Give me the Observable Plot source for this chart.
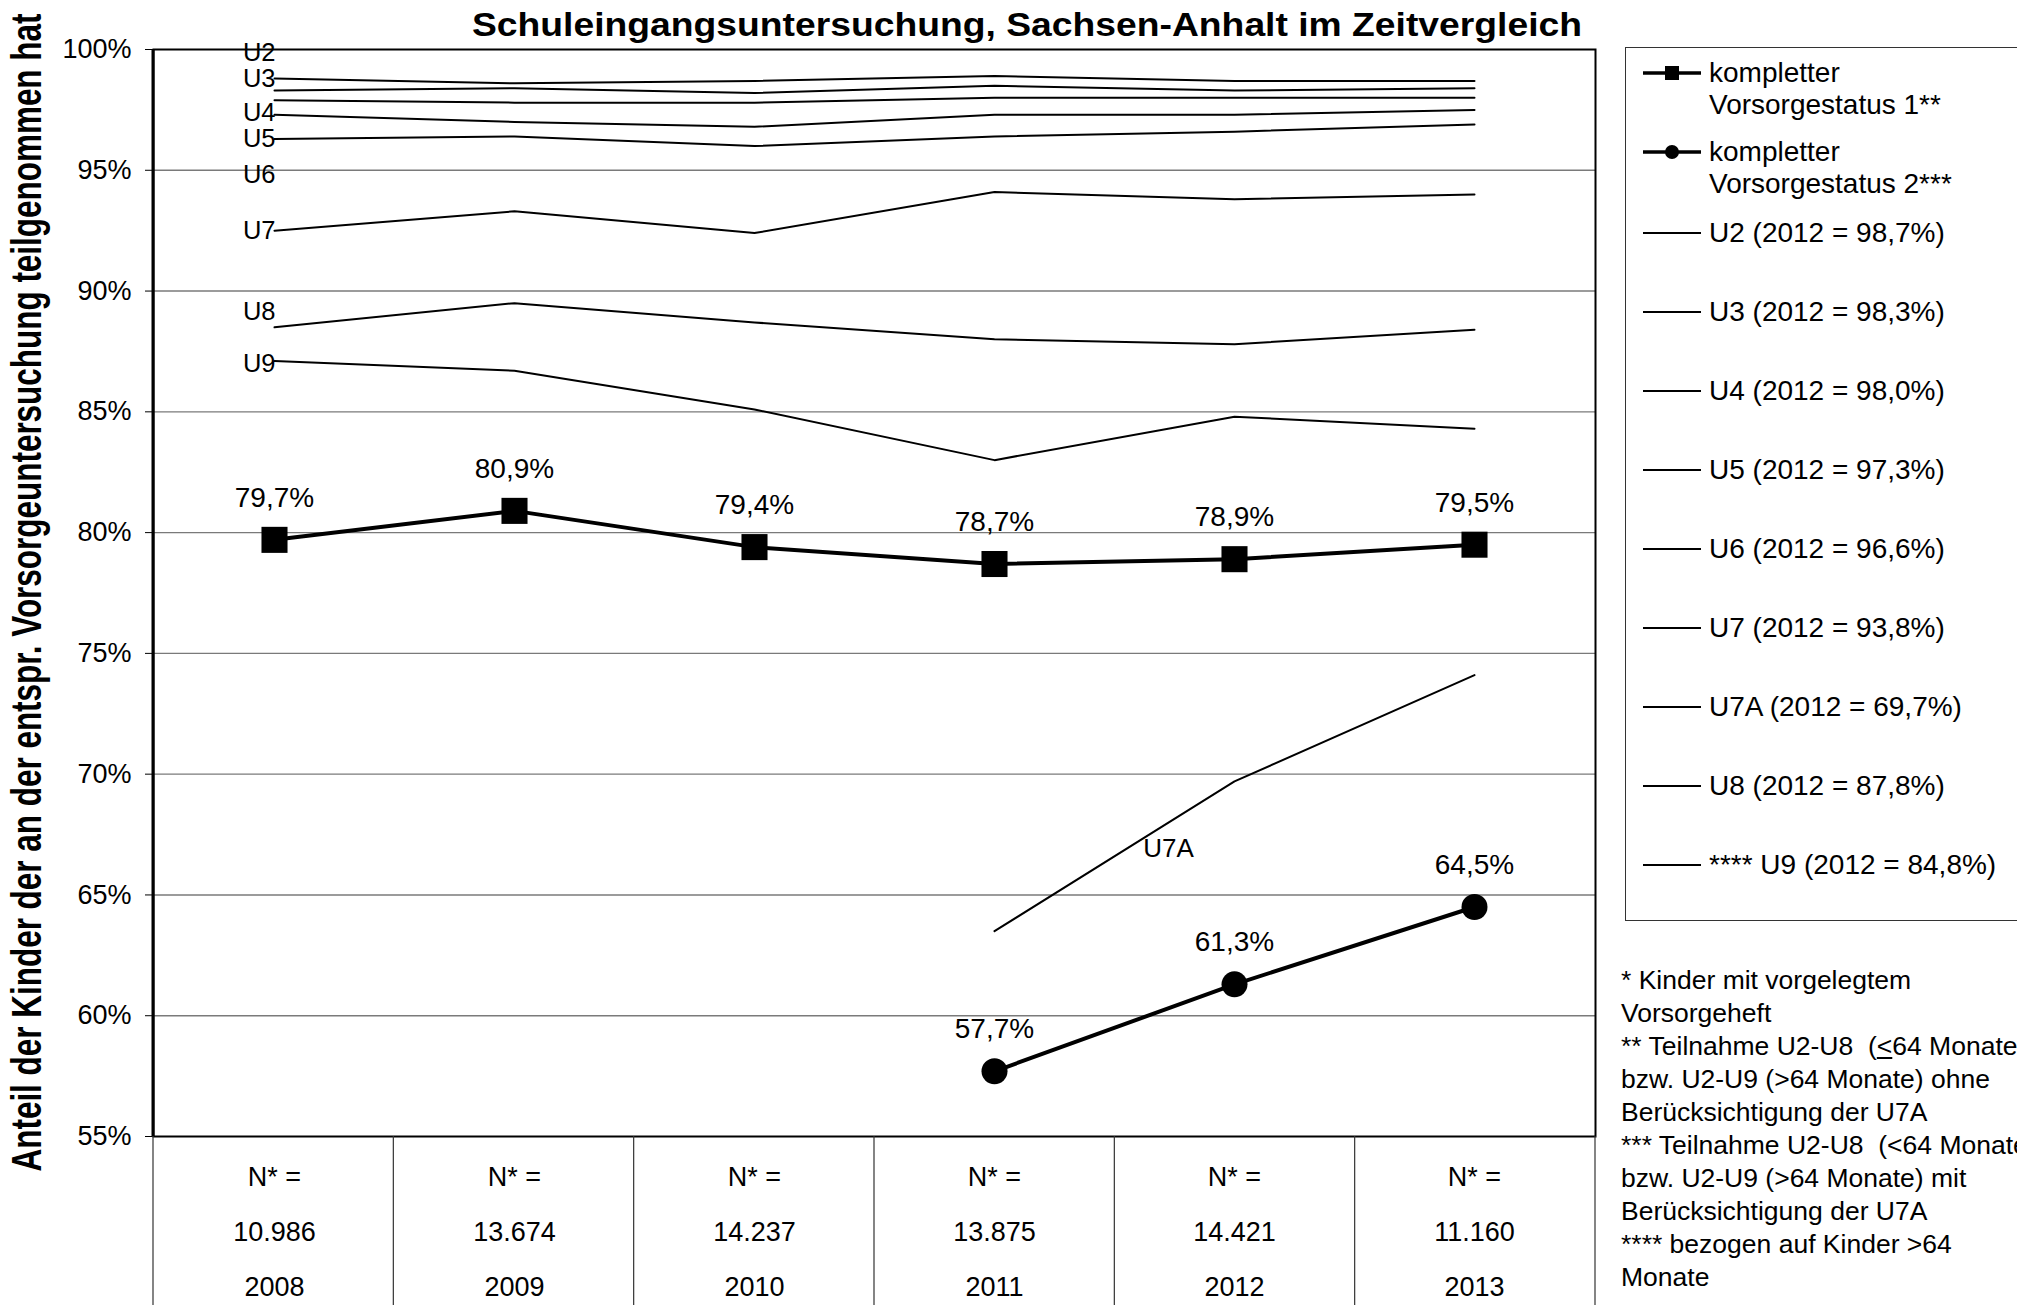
<!DOCTYPE html>
<html><head><meta charset="utf-8">
<script src="https://cdn.jsdelivr.net/npm/d3@7"></script>
<script src="https://cdn.jsdelivr.net/npm/@observablehq/plot@0.6"></script>
<style>
html,body{margin:0;padding:0;background:#fff;width:2017px;height:1305px;overflow:hidden;font-family:"Liberation Sans",Arial,sans-serif;color:#000;}
#wrap{position:relative;width:2017px;height:1305px;overflow:hidden;}
#title{position:absolute;left:0;top:0;width:2017px;height:40px;}
#title span{position:absolute;left:472px;top:6px;font-weight:bold;font-size:33px;line-height:38px;white-space:nowrap;transform-origin:0 0;}
#chart{position:absolute;left:0;top:40px;}
#legend{position:absolute;left:1625px;top:47px;width:430px;height:874px;border:1.5px solid #333;box-sizing:border-box;background:#fff;}
#legend .item{position:absolute;left:16px;font-size:28px;line-height:32px;white-space:nowrap;}
#legend .item svg{position:absolute;left:0;top:0;}
#legend .item .lbl{position:absolute;left:67px;top:0;}
#notes{position:absolute;left:1621px;top:964px;font-size:26.5px;line-height:33px;white-space:nowrap;}
</style></head>
<body><div id="wrap">
<div id="title"><span>Schuleingangsuntersuchung, Sachsen-Anhalt im Zeitvergleich</span></div>
<div id="chart"></div>
<div id="legend"></div>
<div id="notes">* Kinder mit vorgelegtem<br>Vorsorgeheft<br>** Teilnahme U2-U8&nbsp; (<u>&lt;</u>64 Monate)<br>bzw. U2-U9 (&gt;64 Monate) ohne<br>Berücksichtigung der U7A<br>*** Teilnahme U2-U8&nbsp; (&lt;64 Monate)<br>bzw. U2-U9 (&gt;64 Monate) mit<br>Berücksichtigung der U7A<br>**** bezogen auf Kinder &gt;64<br>Monate</div>
</div>
<script>
// ---- data ----
const years = ["2008", "2009", "2010", "2011", "2012", "2013"];
const nKids = ["10.986", "13.674", "14.237", "13.875", "14.421", "11.160"];
const status1 = [79.7, 80.9, 79.4, 78.7, 78.9, 79.5];
const status2 = [null, null, null, 57.7, 61.3, 64.5];
const U2 = [98.8, 98.6, 98.7, 98.9, 98.7, 98.7];
const U3 = [98.3, 98.4, 98.2, 98.5, 98.3, 98.4];
const U4 = [97.9, 97.8, 97.8, 98.0, 98.0, 98.0];
const U5 = [97.3, 97.0, 96.8, 97.3, 97.3, 97.5];
const U6 = [96.3, 96.4, 96.0, 96.4, 96.6, 96.9];
const U7 = [92.5, 93.3, 92.4, 94.1, 93.8, 94.0];
const U7A = [null, null, null, 63.5, 69.7, 74.1];
const U8 = [88.5, 89.5, 88.7, 88.0, 87.8, 88.4];
const U9 = [87.1, 86.7, 85.1, 83.0, 84.8, 84.3];
const uNames = ["U2", "U3", "U4", "U5", "U6", "U7", "U7A", "U8", "U9"];
const uValues = [U2, U3, U4, U5, U6, U7, U7A, U8, U9];
const yTicks = [55, 60, 65, 70, 75, 80, 85, 90, 95, 100];
const statusNames = ["kompletter\nVorsorgestatus 1**", "kompletter\nVorsorgestatus 2***"];
const yLabel = "Anteil der Kinder der an der entspr. Vorsorgeuntersuchung teilgenommen hat";
// annotation anchors (data units) for the line names at the left
const leftLabelNames = ["U2", "U3", "U4", "U5", "U6", "U7", "U8", "U9"];
const leftLabelAt = [99.86, 98.8, 97.38, 96.32, 94.83, 92.49, 89.12, 86.98];
const u7aLabelAt = {year: "2012", value: 66.9};

// ---- derived tables ----
const fmtPct = v => d3.format(".1f")(v).replace(".", ",") + "%";
const rows = (arr, series) => years.map((y, i) => ({year: y, value: arr[i], series})).filter(d => d.value != null);
const uRows = uNames.flatMap((n, k) => rows(uValues[k], n));
const s1Rows = rows(status1, "s1");
const s2Rows = rows(status2, "s2");
const leftLabels = leftLabelNames.map((n, i) => ({text: n, year: "2008", value: leftLabelAt[i]}));

const plot = Plot.plot({
  width: 1610, height: 1265,
  marginTop: 9, marginBottom: 169, marginLeft: 153, marginRight: 15,
  style: {fontFamily: "'Liberation Sans', Arial, sans-serif", fontSize: "27px", color: "#000", background: "transparent", overflow: "visible"},
  x: {type: "point", domain: years, padding: 0.5, align: 0.5},
  y: {domain: [55, 100]},
  marks: [
    Plot.ruleY(yTicks.filter(d => d > 55 && d < 100), {stroke: "#7a7a7a", strokeWidth: 1.4}),
    Plot.frame({stroke: "#000", strokeWidth: 2}),
    Plot.axisY({ticks: yTicks, tickFormat: d => d + "%", tickSize: 8, tickPadding: 14, fontSize: 27, label: null, stroke: "#000"}),
    Plot.axisX({tickFormat: d => `N* =\n${nKids[years.indexOf(d)]}\n${d}`, tickSize: 0, tickPadding: 10, fontSize: 27, lineHeight: 2.04, label: null}),
    Plot.text(leftLabels, {x: "year", y: "value", text: "text", textAnchor: "end", dx: 1, fontSize: 25.5, lineAnchor: "middle", ariaLabel: "bg-label"}),
    Plot.text([u7aLabelAt], {x: "year", y: "value", text: () => "U7A", dx: -66, fontSize: 26, lineAnchor: "middle"}),
    Plot.line(uRows, {x: "year", y: "value", z: "series", stroke: "#000", strokeWidth: 2}),
    Plot.line(s1Rows, {x: "year", y: "value", stroke: "#000", strokeWidth: 4}),
    Plot.line(s2Rows, {x: "year", y: "value", stroke: "#000", strokeWidth: 4}),
    Plot.dot(s1Rows, {x: "year", y: "value", symbol: "square", r: 14.7, fill: "#000", stroke: null}),
    Plot.dot(s2Rows, {x: "year", y: "value", symbol: "circle", r: 13, fill: "#000", stroke: null}),
    Plot.text(s1Rows.concat(s2Rows), {x: "year", y: "value", text: d => fmtPct(d.value), dy: -42, fontSize: 28, lineAnchor: "middle", ariaLabel: "bg-label"})
  ]
});
document.getElementById("chart").append(plot);

// white boxes behind labels that interrupt gridlines (all boxes first, then the texts)
d3.select(plot).selectAll('g[aria-label="bg-label"]').each(function() {
  const grp = this;
  const texts = Array.from(grp.querySelectorAll("text"));
  const first = grp.firstChild;
  texts.forEach(tx => {
    const b = tx.getBBox();
    const r = document.createElementNS("http://www.w3.org/2000/svg", "rect");
    r.setAttribute("x", b.x - 4); r.setAttribute("y", b.y + 3);
    r.setAttribute("width", b.width + 8); r.setAttribute("height", b.height - 6);
    r.setAttribute("fill", "#fff");
    const t = tx.getAttribute("transform"); if (t) r.setAttribute("transform", t);
    grp.insertBefore(r, first);
  });
});

// table grid below the plot + heavier left axis line
const sx = plot.scale("x");
const [r0, r1] = sx.range;
const step = (r1 - r0) / years.length;
const svg = d3.select(plot);
const plotBottom = 1265 - 169;
const g = svg.append("g");
for (let i = 0; i <= years.length; i++) {
  g.append("line").attr("x1", r0 + i * step).attr("x2", r0 + i * step)
    .attr("y1", plotBottom).attr("y2", 1265).attr("stroke", "#333").attr("stroke-width", 1.2);
}
g.append("line").attr("x1", r0).attr("x2", r0).attr("y1", 9).attr("y2", plotBottom).attr("stroke", "#000").attr("stroke-width", 3);
// y axis title
svg.append("text").attr("transform", `translate(41,${(9 + plotBottom) / 2})rotate(-90)`)
  .attr("text-anchor", "middle").attr("font-weight", "bold").attr("font-size", 42)
  .attr("textLength", 1158).attr("lengthAdjust", "spacingAndGlyphs").attr("fill", "#000")
  .text(yLabel);

// legend
const legend = d3.select("#legend");
const itemTops = [9, 87.5].concat(uNames.map((_, i) => 168.5 + i * 79));
const entries = [
  {label: statusNames[0], w: 3.5, sym: "square"},
  {label: statusNames[1], w: 3.5, sym: "circle"}
].concat(uNames.map((n, i) => ({label: (n === "U9" ? "**** " : "") + `${n} (2012 = ${fmtPct(uValues[i][4])})`, w: 2, sym: null})));
entries.forEach((e, i) => {
  const it = legend.append("div").attr("class", "item").style("top", itemTops[i] + "px");
  const s = it.append("svg").attr("width", 60).attr("height", 32);
  s.append("line").attr("x1", 1).attr("x2", 59).attr("y1", 16).attr("y2", 16).attr("stroke", "#000").attr("stroke-width", e.w);
  if (e.sym === "square") s.append("rect").attr("x", 30 - 7).attr("y", 16 - 7).attr("width", 14).attr("height", 14).attr("fill", "#000");
  if (e.sym === "circle") s.append("circle").attr("cx", 30).attr("cy", 16).attr("r", 7).attr("fill", "#000");
  const lbl = it.append("div").attr("class", "lbl");
  e.label.split("\n").forEach((line, k) => { if (k) lbl.append("br"); lbl.append("span").text(line); });
});

// title width
const ts = document.querySelector("#title span");
const tw = ts.getBoundingClientRect().width;
ts.style.transform = `scaleX(${1110 / tw})`;
</script>
</body></html>
